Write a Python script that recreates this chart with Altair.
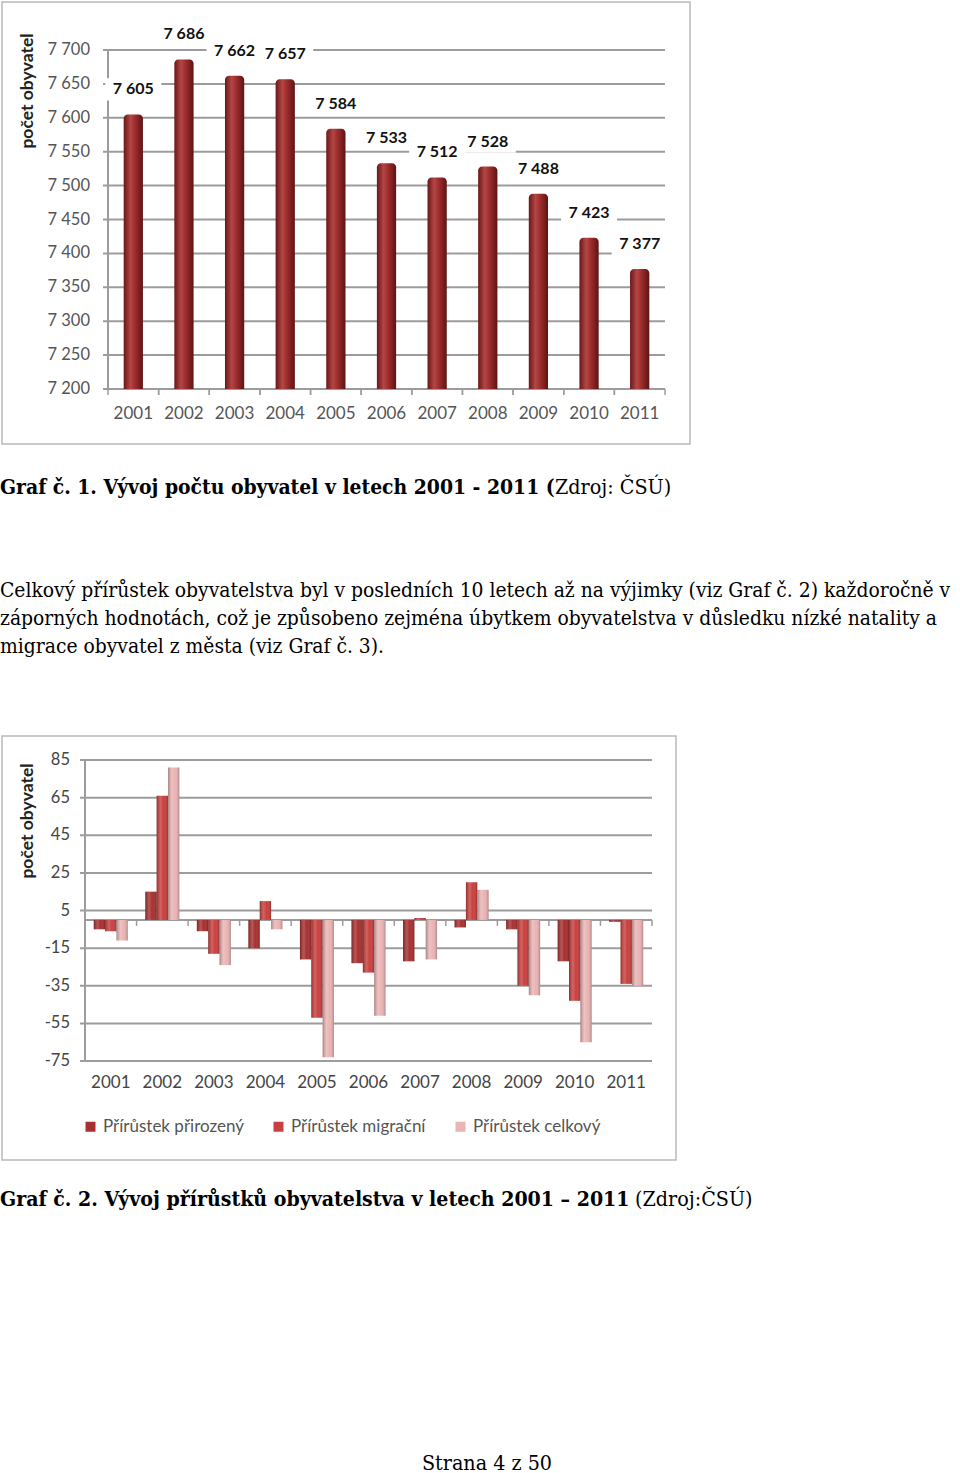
import altair as alt
import pandas as pd

# ---------------- data ----------------
YEARS = ["2001", "2002", "2003", "2004", "2005", "2006", "2007", "2008", "2009", "2010", "2011"]
POPULATION = [7605, 7686, 7662, 7657, 7584, 7533, 7512, 7528, 7488, 7423, 7377]
Y_TICKS_1 = [7200, 7250, 7300, 7350, 7400, 7450, 7500, 7550, 7600, 7650, 7700]

SERIES = ["Přírůstek přirozený", "Přírůstek migrační", "Přírůstek celkový"]
NATURAL = [-5, 15, -6, -15, -21, -23, -22, -4, -5, -22, -1]
MIGRATION = [-6, 66, -18, 10, -52, -28, 1, 20, -35, -43, -34]
TOTAL = [-11, 81, -24, -5, -73, -51, -21, 16, -40, -65, -35]
Y_TICKS_2 = [-75, -55, -35, -15, 5, 25, 45, 65, 85]
SERIES_COLORS = ["#a83030", "#c9403e", "#ebb4b4"]

AXIS_TITLE = "počet obyvatel"
HEADING1_BOLD = "Graf č. 1. Vývoj počtu obyvatel v letech 2001 - 2011 ("
HEADING1_REG = "Zdroj: ČSÚ)"
PARAGRAPH = [
    "Celkový přírůstek obyvatelstva byl v posledních 10 letech až na výjimky (viz Graf č. 2) každoročně v",
    "záporných hodnotách, což je způsobeno zejména úbytkem obyvatelstva v důsledku nízké natality a",
    "migrace obyvatel z města (viz Graf č. 3).",
]
HEADING2_BOLD = "Graf č. 2. Vývoj přírůstků obyvatelstva v letech 2001 – 2011"
HEADING2_REG = "(Zdroj:ČSÚ)"
FOOTER = "Strana 4 z 50"

df1 = pd.DataFrame({"year": YEARS, "pop": POPULATION})
rows = []
for i, y in enumerate(YEARS):
    rows.append({"year": y, "series": SERIES[0], "v": NATURAL[i]})
    rows.append({"year": y, "series": SERIES[1], "v": MIGRATION[i]})
    rows.append({"year": y, "series": SERIES[2], "v": TOTAL[i]})
df2 = pd.DataFrame(rows)
df_years = pd.DataFrame({"year": YEARS})
df_t1 = pd.DataFrame({"t": Y_TICKS_1})
df_t2 = pd.DataFrame({"t": Y_TICKS_2})

AX_FONT = "Lato"
BODY_FONT = "DejaVu Serif Condensed"
GRID = "#9c9c9c"

def one(**kw):
    return alt.Data(values=[dict(t=0, **kw)])

# ---------------- layout (page pixels) ----------------
X1_RANGE = [108, 665]
Y1_RANGE = [389, 50]
X2_RANGE = [85, 652]
Y2_RANGE = [1061, 760]
STEP1 = (X1_RANGE[1] - X1_RANGE[0]) / len(YEARS)
STEP2 = (X2_RANGE[1] - X2_RANGE[0]) / len(YEARS)

def X1(field="year"):
    return alt.X(f"{field}:N", sort=YEARS, axis=None,
                 scale=alt.Scale(domain=YEARS, range=X1_RANGE, paddingInner=0.62, paddingOuter=0.31))

def Y1(field):
    return alt.Y(f"{field}:Q", axis=None,
                 scale=alt.Scale(domain=[7200, 7700], range=Y1_RANGE, nice=False, zero=False))

def X2(field="year"):
    return alt.X(f"{field}:N", sort=YEARS, axis=None,
                 scale=alt.Scale(domain=YEARS, range=X2_RANGE, paddingInner=0.34, paddingOuter=0.17))

SCALE_Y2 = alt.Scale(domain=[-75, 85], range=Y2_RANGE, nice=False)

def Y2(field):
    return alt.Y(f"{field}:Q", axis=None, scale=SCALE_Y2)

fmt_thousands = "replace(format(datum.{f}, ','), ',', ' ')"

# ---------------- chart 1 ----------------
frame1 = alt.Chart(one()).mark_rect(fill="transparent", stroke="#b9b9b9", strokeWidth=1.5).encode(
    x=alt.value(2), x2=alt.value(690), y=alt.value(2), y2=alt.value(444))
grid1 = alt.Chart(df_t1).mark_rule(color=GRID, strokeWidth=2).encode(
    y=Y1("t"), x=alt.value(X1_RANGE[0] - 5), x2=alt.value(X1_RANGE[1]))
ylab1 = alt.Chart(df_t1).transform_calculate(lab=fmt_thousands.format(f="t")).mark_text(
    align="right", baseline="middle", font=AX_FONT, fontSize=16.5, color="#555").encode(
    y=Y1("t"), x=alt.value(90), text="lab:N")
ydom1 = alt.Chart(one()).mark_rule(color=GRID, strokeWidth=2).encode(
    x=alt.value(X1_RANGE[0]), y=alt.value(Y1_RANGE[1]), y2=alt.value(Y1_RANGE[0]))
xt1a = alt.Chart(df_years).mark_rule(color=GRID, strokeWidth=1.5, xOffset=-STEP1 / 2).encode(
    x=X1(), y=alt.value(Y1_RANGE[0]), y2=alt.value(Y1_RANGE[0] + 6))
xt1b = alt.Chart(df_years).mark_rule(color=GRID, strokeWidth=1.5, xOffset=STEP1 / 2).encode(
    x=X1(), y=alt.value(Y1_RANGE[0]), y2=alt.value(Y1_RANGE[0] + 6))
xlab1 = alt.Chart(df_years).mark_text(baseline="middle", font=AX_FONT, fontSize=17, color="#555").encode(
    x=X1(), y=alt.value(414), text="year:N")

bar_grad = alt.Gradient(gradient="linear", x1=0, x2=1, y1=0, y2=0, stops=[
    alt.GradientStop(color="#6a1717", offset=0),
    alt.GradientStop(color="#b44646", offset=0.35),
    alt.GradientStop(color="#9c2c2c", offset=0.6),
    alt.GradientStop(color="#5e1313", offset=1)])

base1 = alt.Chart(df1).transform_calculate(lab=fmt_thousands.format(f="pop"))
bars1 = base1.mark_bar(color=bar_grad, cornerRadiusTopLeft=4, cornerRadiusTopRight=4).encode(
    x=X1(), y=Y1("pop"), y2=alt.datum(7200))
lab_bg = base1.mark_point(shape="M-1,-0.4H1V0.4H-1Z", size=56 * 56, filled=True, color="white",
                          opacity=1, strokeWidth=0, yOffset=-25).encode(x=X1(), y=Y1("pop"))
labels1 = base1.mark_text(yOffset=-25, baseline="middle", font=AX_FONT, fontSize=16,
                          fontWeight="bold", color="#111").encode(x=X1(), y=Y1("pop"), text="lab:N")
ytitle1 = alt.Chart(one(s=AXIS_TITLE)).mark_text(
    angle=270, align="center", baseline="middle", font=AX_FONT, fontSize=17.5, fontWeight="bold",
    color="#222").encode(x=alt.value(28), y=alt.value(91), text="s:N")

# ---------------- texts ----------------
h1b = alt.Chart(one(s=HEADING1_BOLD)).mark_text(
    align="left", baseline="alphabetic", font=BODY_FONT, fontWeight="bold", fontSize=20.9, color="#000"
).encode(x=alt.value(0), y=alt.value(494), text="s:N")
h1r = alt.Chart(one(s=HEADING1_REG)).mark_text(
    align="left", baseline="alphabetic", font=BODY_FONT, fontSize=21.3, color="#000"
).encode(x=alt.value(555), y=alt.value(494), text="s:N")
para = alt.Chart(one(s="\n".join(PARAGRAPH))).mark_text(
    align="left", baseline="alphabetic", font=BODY_FONT, fontSize=20.85, color="#000",
    lineBreak="\n", lineHeight=28
).encode(x=alt.value(0), y=alt.value(597), text="s:N")
h2b = alt.Chart(one(s=HEADING2_BOLD)).mark_text(
    align="left", baseline="alphabetic", font=BODY_FONT, fontWeight="bold", fontSize=21.1, color="#000"
).encode(x=alt.value(0), y=alt.value(1206), text="s:N")
h2r = alt.Chart(one(s=HEADING2_REG)).mark_text(
    align="left", baseline="alphabetic", font=BODY_FONT, fontSize=21.3, color="#000"
).encode(x=alt.value(635), y=alt.value(1206), text="s:N")
foot = alt.Chart(one(s=FOOTER)).mark_text(
    align="center", baseline="alphabetic", font=BODY_FONT, fontSize=21.3, color="#000"
).encode(x=alt.value(487), y=alt.value(1470), text="s:N")

# ---------------- chart 2 ----------------
frame2 = alt.Chart(one()).mark_rect(fill="transparent", stroke="#b9b9b9", strokeWidth=1.5).encode(
    x=alt.value(2), x2=alt.value(676), y=alt.value(736), y2=alt.value(1160))
grid2 = alt.Chart(df_t2).mark_rule(color=GRID, strokeWidth=2).encode(
    y=Y2("t"), x=alt.value(X2_RANGE[0] - 5), x2=alt.value(X2_RANGE[1]))
ylab2 = alt.Chart(df_t2).mark_text(
    align="right", baseline="middle", font=AX_FONT, fontSize=16.5, color="#444").encode(
    y=Y2("t"), x=alt.value(70), text="t:N")
ydom2 = alt.Chart(one()).mark_rule(color=GRID, strokeWidth=2).encode(
    x=alt.value(X2_RANGE[0]), y=alt.value(Y2_RANGE[1]), y2=alt.value(Y2_RANGE[0]))
zero2 = alt.Chart(one()).mark_rule(color=GRID, strokeWidth=2).encode(
    y=alt.Y(datum=0, scale=SCALE_Y2, axis=None), x=alt.value(X2_RANGE[0]), x2=alt.value(X2_RANGE[1]))
zt2 = alt.Chart(df_years).mark_rule(color=GRID, strokeWidth=1.5, xOffset=STEP2 / 2, y2Offset=6).encode(
    x=X2(), y=alt.Y(datum=0, scale=SCALE_Y2, axis=None), y2=alt.datum(0))
xlab2 = alt.Chart(df_years).mark_text(baseline="middle", font=AX_FONT, fontSize=17, color="#444").encode(
    x=X2(), y=alt.value(1083), text="year:N")

xo2 = alt.XOffset("series:N", sort=SERIES, scale=alt.Scale(domain=SERIES, paddingInner=0, paddingOuter=0))
col2 = alt.Color("series:N", sort=SERIES, scale=alt.Scale(domain=SERIES, range=SERIES_COLORS),
                 legend=alt.Legend(orient="none", legendX=82, legendY=1118, direction="horizontal",
                                   title=None, symbolType="square", symbolSize=100,
                                   symbolStrokeWidth=0, labelFont=AX_FONT, labelFontSize=17,
                                   labelColor="#555", columnPadding=26, labelOffset=4))
shade = alt.Gradient(gradient="linear", x1=0, x2=1, y1=0, y2=0, stops=[
    alt.GradientStop(color="rgba(0,0,0,0.28)", offset=0),
    alt.GradientStop(color="rgba(255,255,255,0.18)", offset=0.35),
    alt.GradientStop(color="rgba(255,255,255,0.0)", offset=0.6),
    alt.GradientStop(color="rgba(0,0,0,0.25)", offset=1)])

bars2 = alt.Chart(df2).mark_bar().encode(x=X2(), y=Y2("v"), xOffset=xo2, color=col2)
shade2 = alt.Chart(df2).mark_bar(fill=shade).encode(x=X2(), y=Y2("v"), xOffset=xo2)
ytitle2 = alt.Chart(one(s=AXIS_TITLE)).mark_text(
    angle=270, align="center", baseline="middle", font=AX_FONT, fontSize=17.5, fontWeight="bold",
    color="#222").encode(x=alt.value(28), y=alt.value(821), text="s:N")

chart = alt.layer(
    frame1, grid1, ylab1, ydom1, xt1a, xt1b, xlab1, bars1, lab_bg, labels1, ytitle1,
    h1b, h1r, para,
    frame2, grid2, ylab2, ydom2, zero2, bars2, shade2, zt2, xlab2, ytitle2,
    h2b, h2r, foot,
).resolve_scale(
    x="independent", y="independent", color="independent", xOffset="independent"
).properties(
    width=960, height=1473, padding=0, background="white",
    autosize=alt.AutoSizeParams(type="none"),
).configure_view(strokeWidth=0)

chart.save("out.html", embed_options={"renderer": "svg", "actions": False})
